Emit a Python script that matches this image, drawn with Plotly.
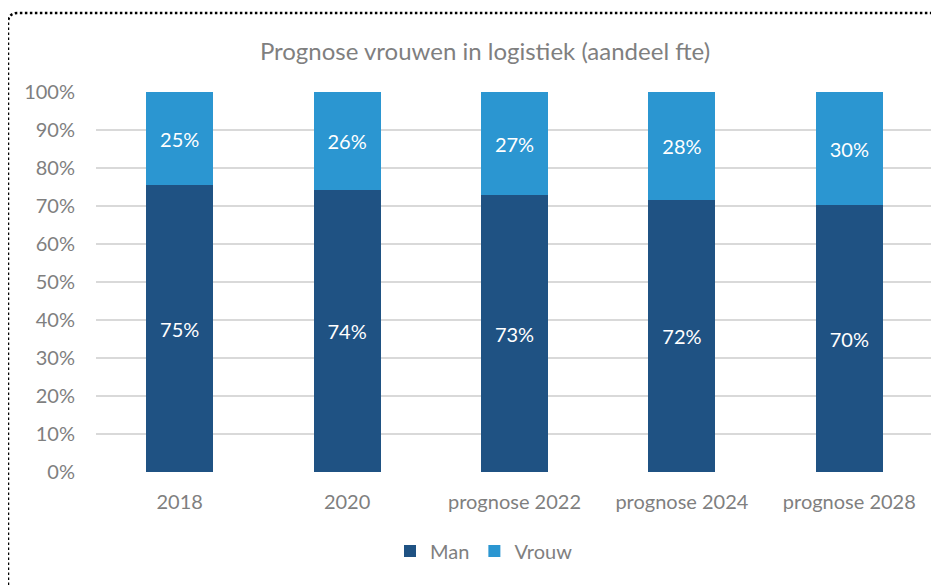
import plotly.graph_objects as go

jaren = ["2018", "2020", "prognose 2022", "prognose 2024", "prognose 2028"]
man = [0.754, 0.741, 0.728, 0.716, 0.702]
vrouw = [0.246, 0.259, 0.272, 0.284, 0.298]

kleur_man = "#1F5283"
kleur_vrouw = "#2B96D1"
grijs = "#7F7F7F"
lettertype = "Lato"

# page body has an 8px margin, so shift everything up/left
OFF = 8

fig = go.Figure()
for naam, waarden, kleur in [("Man", man, kleur_man), ("Vrouw", vrouw, kleur_vrouw)]:
    fig.add_trace(go.Bar(
        x=jaren, y=waarden, name=naam,
        marker=dict(color=kleur, line=dict(width=0)),
        texttemplate="%{y:.0%}", textposition="inside",
        insidetextanchor="middle", constraintext="none",
        textfont=dict(color="white", size=20, family=lettertype),
    ))

# plot area in window pixels: l=96, r=933, top=92, bottom=472
L, R, T, B = 96 - OFF, 933 - OFF, 92 - OFF, 472 - OFF
W, H = R - L, B - T

def px(x):
    return (x - OFF - L) / W

def py(y):
    return (B - (y - OFF)) / H

# dotted frame with rounded top-left corner
x0, y0, x1, y1, r = px(8), py(13), px(945), py(595), 10
rx, ry = r / W, r / H
pad = f"M {x0},{y1} L {x0},{y0 - ry} Q {x0},{y0} {x0 + rx},{y0} L {x1},{y0}"

fig.update_layout(
    width=939, height=587,
    margin=dict(l=L, r=939 - R, t=T, b=587 - B),
    paper_bgcolor="white", plot_bgcolor="white",
    barmode="stack", bargap=0.6,
    font=dict(family=lettertype, color=grijs, size=20),
    title=dict(text="Prognose vrouwen in logistiek (aandeel fte)",
               x=px(485), xanchor="center", xref="paper",
               y=1 - (52 - OFF) / 587, yanchor="middle",
               font=dict(size=24, color=grijs, family=lettertype)),
    xaxis=dict(showgrid=False, showline=False, ticks="",
               tickfont=dict(size=20, color=grijs), ticklabelstandoff=16),
    yaxis=dict(range=[0, 1], tickformat=".0%", dtick=0.1,
               gridcolor="#D9D9D9", gridwidth=1.5, zeroline=False,
               showline=False, ticks="", ticklabelstandoff=20,
               tickfont=dict(size=20, color=grijs)),
    legend=dict(orientation="h", x=px(484), xanchor="center",
                y=py(551), yanchor="middle",
                font=dict(size=20, color=grijs), itemwidth=30,
                tracegroupgap=0, traceorder="normal"),
    shapes=[dict(type="path", xref="paper", yref="paper", path=pad,
                 line=dict(color="black", width=2.5, dash="2.5px,2.5px"),
                 layer="above")],
)

fig.write_html("out.html")
